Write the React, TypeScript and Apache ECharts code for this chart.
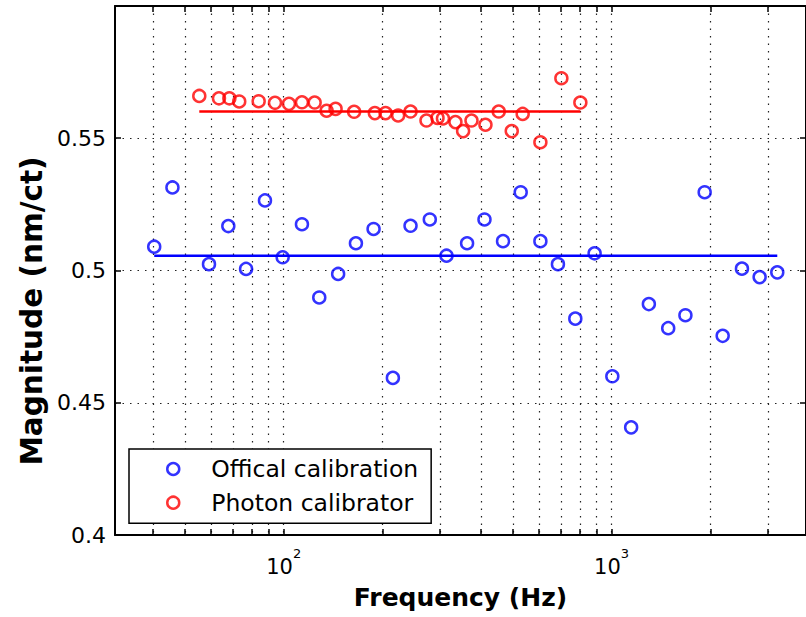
import React, { useEffect, useRef } from 'react';
import * as echarts from 'echarts';

// Official calibration (blue circles)
const blueFreq = [40.3, 45.8, 59.2, 67.8, 76.8, 87.7, 99.3, 113.7, 128.4, 146.6, 166.1, 188, 215.3, 243.7, 279, 313.7, 362.5, 409.6, 466.6, 528.2, 606.5, 686, 775, 887.5, 1005, 1147, 1299, 1488, 1679, 1922, 2181, 2497, 2827, 3200];
const blueMag = [0.509, 0.5314, 0.5024, 0.5168, 0.5006, 0.5265, 0.505, 0.5175, 0.4898, 0.4987, 0.5103, 0.5157, 0.4594, 0.5169, 0.5193, 0.5056, 0.5103, 0.5193, 0.5111, 0.5296, 0.5111, 0.5024, 0.4818, 0.5065, 0.46, 0.4407, 0.4873, 0.4782, 0.4831, 0.5296, 0.4753, 0.5007, 0.4975, 0.4993];
const blueMean = 0.5056;

// Photon calibrator (red circles)
const redFreq = [55.3, 63.5, 68.3, 73.2, 83.9, 94.1, 103.8, 113.7, 124.3, 135.2, 144, 164, 189.7, 204.5, 223.4, 243.7, 272.6, 294.5, 306, 334, 352.5, 373.9, 412.4, 452.7, 496, 535.6, 606.5, 702.7, 803];
const redMag = [0.566, 0.5651, 0.5651, 0.5639, 0.564, 0.5634, 0.563, 0.5636, 0.5635, 0.5604, 0.5611, 0.56, 0.5595, 0.5595, 0.5586, 0.5601, 0.5567, 0.5577, 0.5575, 0.5561, 0.5527, 0.5567, 0.5551, 0.5601, 0.5527, 0.5592, 0.5485, 0.5727, 0.5635];
const redMean = 0.5601;

const seriesNames = ['Offical calibration', 'Photon calibrator'];
const xTickValues = [40, 50, 60, 70, 80, 90, 100, 200, 300, 400, 500, 600, 700, 800, 900, 1000, 2000, 3000];
const xLabelValues = [100, 1000];
const xMin = 30.6;
const xMax = 3915;
const yMin = 0.4;
const yMax = 0.6;
const yStep = 0.05;

const FONT = 'DejaVu Sans';

export default function App() {
  const ref = useRef<HTMLDivElement>(null);

  useEffect(() => {
    const chart = echarts.init(ref.current as HTMLDivElement, null, { renderer: 'svg' });
    const dotted = { color: '#222', width: 1.2, type: [1.5, 6] as number[] };
    const axisLine = { show: true, lineStyle: { color: '#000', width: 2 } };
    const tick = { show: true, inside: true, length: 6, lineStyle: { color: '#000', width: 1.5 } };

    const scatterStyle = (c: string) => ({ color: 'rgba(0,0,0,0)', borderColor: c, borderWidth: 2.5 });

    chart.setOption({
      animation: false,
      backgroundColor: '#fff',
      grid: { left: 115, top: 6, width: 692, height: 529 },
      xAxis: [
        {
          type: 'log',
          logBase: 10,
          min: xMin,
          max: xMax,
          position: 'bottom',
          axisLine,
          axisTick: { ...tick, customValues: xTickValues },
          axisLabel: {
            customValues: xLabelValues,
            margin: 12,
            formatter: (v: number) => `{b|10}{s|${Math.round(Math.log10(v))}}`,
            rich: {
              b: { fontFamily: FONT, fontSize: 21, color: '#000', lineHeight: 40, verticalAlign: 'middle' },
              s: { fontFamily: FONT, fontSize: 13, color: '#000', lineHeight: 13, verticalAlign: 'top' },
            },
          },
          splitLine: { show: true, lineStyle: dotted },
          name: 'Frequency (Hz)',
          nameLocation: 'middle',
          nameGap: 50,
          nameTextStyle: { fontFamily: FONT, fontSize: 25, fontWeight: 'bold', color: '#000' },
        },
        {
          type: 'log',
          logBase: 10,
          min: xMin,
          max: xMax,
          position: 'top',
          axisLine,
          axisTick: { ...tick, customValues: xTickValues },
          axisLabel: { show: false },
          splitLine: { show: false },
        },
      ],
      yAxis: [
        {
          type: 'value',
          min: yMin,
          max: yMax,
          interval: yStep,
          position: 'left',
          axisLine,
          axisTick: tick,
          axisLabel: {
            margin: 9,
            fontFamily: FONT,
            fontSize: 22,
            color: '#000',
            formatter: (v: number) => (v > 0.59 ? '' : String(Math.round(v * 100) / 100)),
          },
          splitLine: { show: true, lineStyle: dotted },
        },
        {
          type: 'value',
          min: yMin,
          max: yMax,
          interval: yStep,
          position: 'right',
          axisLine,
          axisTick: tick,
          axisLabel: { show: false },
          splitLine: { show: false },
        },
      ],
      legend: {
        data: [
          { name: seriesNames[0], itemStyle: scatterStyle('#0000ff') },
          { name: seriesNames[1], itemStyle: scatterStyle('#ff0000') },
        ],
        orient: 'vertical',
        left: 129,
        top: 449,
        padding: [6.5, 13, 7, 37],
        itemGap: 6.7,
        itemWidth: 66,
        itemHeight: 12,
        icon: 'circle',
        borderColor: '#000',
        borderWidth: 1.5,
        borderRadius: 0,
        backgroundColor: '#fff',
        textStyle: { fontFamily: FONT, fontSize: 23.5, color: '#000', lineHeight: 27 },
      },
      graphic: [
        {
          type: 'text',
          x: 32,
          y: 311,
          rotation: Math.PI / 2,
          style: {
            text: 'Magnitude (nm/ct)',
            fontFamily: FONT,
            fontSize: 29.5,
            fontWeight: 'bold',
            fill: '#000',
            align: 'center',
            verticalAlign: 'middle',
          },
        },
      ],
      series: [
        {
          name: seriesNames[0],
          type: 'scatter',
          xAxisIndex: 0,
          yAxisIndex: 0,
          symbol: 'circle',
          symbolSize: 12,
          itemStyle: scatterStyle('#0000ff'),
          data: blueFreq.map((f, i) => [f, blueMag[i]]),
          z: 3,
        },
        {
          name: seriesNames[1],
          type: 'scatter',
          xAxisIndex: 0,
          yAxisIndex: 0,
          symbol: 'circle',
          symbolSize: 12,
          itemStyle: scatterStyle('#ff0000'),
          data: redFreq.map((f, i) => [f, redMag[i]]),
          z: 3,
        },
        {
          name: 'blue mean',
          type: 'line',
          xAxisIndex: 0,
          yAxisIndex: 0,
          symbol: 'none',
          silent: true,
          lineStyle: { color: '#0000ff', width: 2.5 },
          data: [[blueFreq[0], blueMean], [blueFreq[blueFreq.length - 1], blueMean]],
          z: 3,
        },
        {
          name: 'red mean',
          type: 'line',
          xAxisIndex: 0,
          yAxisIndex: 0,
          symbol: 'none',
          silent: true,
          lineStyle: { color: '#ff0000', width: 2.5 },
          data: [[redFreq[0], redMean], [redFreq[redFreq.length - 1], redMean]],
          z: 3,
        },
      ],
    });

    return () => chart.dispose();
  }, []);

  return <div ref={ref} style={{ position: 'fixed', left: 0, top: 0, width: 806, height: 617 }} />;
}
